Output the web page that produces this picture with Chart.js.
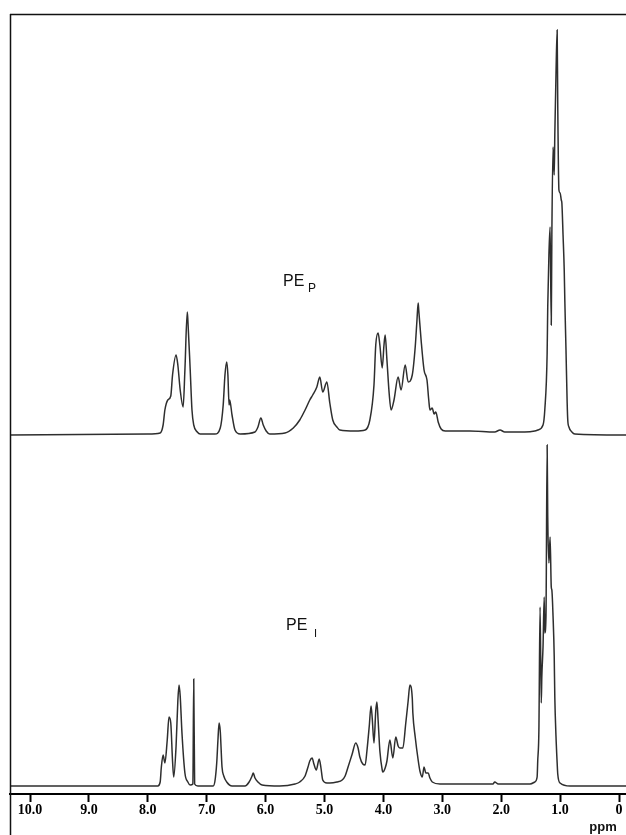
<!DOCTYPE html>
<html>
<head>
<meta charset="utf-8">
<script src="https://cdn.jsdelivr.net/npm/chart.js@4/dist/chart.umd.min.js"></script>
<style>
  html, body { margin: 0; padding: 0; background: #fff; }
  #wrap { width: 626px; height: 835px; position: relative; }
  canvas { display: block; }
</style>
</head>
<body>
<div id="wrap"><canvas id="c" width="626" height="835"></canvas></div>
<script>
// Tick values and labels (ppm, reversed axis)
const tickValues = [10, 9, 8, 7, 6, 5, 4, 3, 2, 1, 0];
const tickLabels = ['10.0', '9.0', '8.0', '7.0', '6.0', '5.0', '4.0', '3.0', '2.0', '1.0', '0'];

// Upper spectrum: PE_P  (chemical shift in ppm, relative intensity)
const ppmUpper = [
  10.34, 8.00, 7.79, 7.74, 7.71, 7.66, 7.61, 7.58, 7.52, 7.49,
  7.45, 7.40, 7.37, 7.33, 7.32, 7.28, 7.25, 7.22, 7.16, 7.11,
  6.86, 6.77, 6.72, 6.69, 6.66, 6.64, 6.62, 6.61, 6.57, 6.52,
  6.43, 6.18, 6.13, 6.08, 6.04, 5.99, 5.93, 5.67, 5.53, 5.42,
  5.33, 5.25, 5.20, 5.13, 5.08, 5.03, 4.96, 4.91, 4.86, 4.79,
  4.74, 4.48, 4.31, 4.23, 4.16, 4.13, 4.09, 4.06, 4.02, 3.99,
  3.97, 3.94, 3.90, 3.87, 3.82, 3.75, 3.70, 3.63, 3.58, 3.51,
  3.46, 3.43, 3.41, 3.40, 3.36, 3.31, 3.26, 3.23, 3.21, 3.17,
  3.14, 3.11, 3.07, 3.02, 2.95, 2.53, 2.11, 2.02, 1.94, 1.60,
  1.43, 1.38, 1.29, 1.26, 1.22, 1.21, 1.19, 1.17, 1.15, 1.14,
  1.12, 1.10, 1.09, 1.07, 1.05, 1.04, 1.02, 1.00, 0.98, 0.97,
  0.95, 0.93, 0.92, 0.90, 0.88, 0.87, 0.85, 0.80, 0.75, -0.12
];
const intUpper = [
  0, 1, 2, 10, 25, 35, 39, 60, 80, 70,
  45, 28, 65, 123, 115, 65, 25, 10, 3, 1,
  1, 7, 30, 60, 73, 60, 30, 35, 20, 5,
  1, 3, 8, 17, 10, 4, 1, 2, 7, 15,
  25, 35, 40, 48, 58, 43, 53, 32, 15, 8,
  5, 4, 5, 15, 50, 90, 102, 90, 67, 90,
  100, 75, 40, 25, 35, 58, 45, 70, 53, 60,
  88, 115, 132, 125, 95, 65, 55, 35, 25, 27,
  21, 23, 13, 6, 4, 4, 3, 5, 3, 3,
  4, 5, 10, 25, 82, 128, 180, 208, 110, 200,
  288, 260, 300, 360, 405, 330, 245, 242, 235, 232,
  200, 165, 135, 85, 32, 15, 8, 3, 1, 0
];

// Lower spectrum: PE_I
const ppmLower = [
  10.34, 7.83, 7.79, 7.77, 7.74, 7.71, 7.67, 7.64, 7.61, 7.58,
  7.56, 7.52, 7.49, 7.47, 7.45, 7.42, 7.37, 7.32, 7.28, 7.235,
  7.22, 7.205, 7.15, 6.89, 6.86, 6.83, 6.81, 6.79, 6.77, 6.74,
  6.71, 6.66, 6.57, 6.35, 6.28, 6.23, 6.21, 6.18, 6.13, 6.06,
  5.76, 5.50, 5.42, 5.33, 5.28, 5.25, 5.21, 5.18, 5.14, 5.09,
  5.06, 5.03, 4.96, 4.91, 4.79, 4.70, 4.65, 4.60, 4.53, 4.47,
  4.43, 4.40, 4.35, 4.31, 4.28, 4.24, 4.21, 4.19, 4.16, 4.13,
  4.11, 4.09, 4.06, 4.02, 4.01, 3.97, 3.94, 3.89, 3.84, 3.79,
  3.75, 3.72, 3.67, 3.62, 3.58, 3.55, 3.51, 3.50, 3.46, 3.41,
  3.38, 3.34, 3.31, 3.28, 3.24, 3.21, 3.17, 3.04, 2.53, 2.14,
  2.11, 2.05, 1.51, 1.43, 1.39, 1.38, 1.36, 1.34, 1.32, 1.31,
  1.29, 1.27, 1.26, 1.24, 1.22, 1.21, 1.19, 1.17, 1.15, 1.14,
  1.12, 1.10, 1.09, 1.07, 1.05, 1.04, 1.00, 0.83, -0.12
];
const intLower = [
  0, 0, 4, 19, 31, 23, 46, 69, 63, 25,
  9, 40, 85, 101, 90, 53, 13, 4, 1, 2,
  107, 2, 0, 0, 5, 23, 45, 63, 55, 19,
  10, 4, 0, 0, 4, 10, 13, 8, 4, 1,
  0, 2, 4, 10, 19, 25, 28, 22, 16, 27,
  18, 6, 3, 3, 4, 6, 10, 19, 32, 43,
  38, 29, 22, 21, 35, 60, 80, 68, 43, 75,
  84, 66, 35, 16, 14, 18, 25, 46, 28, 49,
  40, 38, 38, 63, 85, 101, 88, 73, 49, 26,
  15, 9, 19, 13, 13, 8, 4, 2, 2, 2,
  4, 2, 2, 4, 9, 25, 56, 179, 83, 110,
  139, 189, 153, 169, 341, 270, 223, 249, 199, 196,
  170, 130, 89, 50, 23, 12, 3, 0, 0
];

const toPoints = (xs, ys) => xs.map((x, i) => ({ x: x, y: ys[i] }));

const framePlugin = {
  id: 'frame',
  afterDraw(chart) {
    const c = chart.ctx;
    const a = chart.chartArea;
    c.save();
    c.strokeStyle = '#111';
    c.lineWidth = 1.5;
    c.beginPath();
    c.moveTo(a.left + 0.5, a.top);
    c.lineTo(a.left + 0.5, chart.height);
    c.moveTo(a.left, a.top + 0.5);
    c.lineTo(chart.width, a.top + 0.5);
    c.stroke();

    // series labels
    c.fillStyle = '#111';
    c.textBaseline = 'alphabetic';
    c.textAlign = 'left';
    c.font = '16px "Liberation Sans", Arial, sans-serif';
    c.fillText('PE', 283, 286);
    c.font = '12px "Liberation Sans", Arial, sans-serif';
    c.fillText('P', 308, 292);
    c.font = '16px "Liberation Sans", Arial, sans-serif';
    c.fillText('PE', 286, 630);
    c.font = '11px "Liberation Sans", Arial, sans-serif';
    c.fillText('I', 314, 637);

    // axis unit
    c.font = 'bold 13px "Liberation Sans", Arial, sans-serif';
    c.textAlign = 'center';
    c.fillText('ppm', 603, 831);
    c.restore();
  }
};

const lineStyle = {
  borderColor: '#2e2e2e',
  borderWidth: 1.5,
  pointRadius: 0,
  cubicInterpolationMode: 'monotone',
  fill: false
};

new Chart(document.getElementById('c'), {
  type: 'line',
  data: {
    datasets: [
      Object.assign({ label: 'PE_P', data: toPoints(ppmUpper, intUpper), yAxisID: 'yUp' }, lineStyle),
      Object.assign({ label: 'PE_I', data: toPoints(ppmLower, intLower), yAxisID: 'yLow' }, lineStyle)
    ]
  },
  options: {
    responsive: false,
    animation: false,
    devicePixelRatio: 1,
    layout: { padding: { left: 10, top: 14, right: 0, bottom: 0 } },
    plugins: { legend: { display: false }, tooltip: { enabled: false } },
    scales: {
      x: {
        type: 'linear',
        reverse: true,
        min: -0.1188,
        max: 10.3396,
        afterFit(s) { s.height = 41; },
        afterBuildTicks(s) { s.ticks = tickValues.map(v => ({ value: v })); },
        ticks: {
          autoSkip: false,
          maxRotation: 0,
          color: '#000',
          padding: 0,
          font: { family: '"Liberation Serif", "Times New Roman", serif', weight: 'bold', size: 14 },
          callback: (v) => tickLabels[tickValues.indexOf(v)]
        },
        grid: { drawOnChartArea: false, drawTicks: true, tickLength: 8, tickWidth: 2, tickColor: '#000' },
        border: { display: true, color: '#000', width: 2 }
      },
      yUp: { type: 'linear', display: false, min: -359, max: 421 },
      yLow: { type: 'linear', display: false, min: -8, max: 772 }
    }
  },
  plugins: [framePlugin]
});
</script>
</body>
</html>
